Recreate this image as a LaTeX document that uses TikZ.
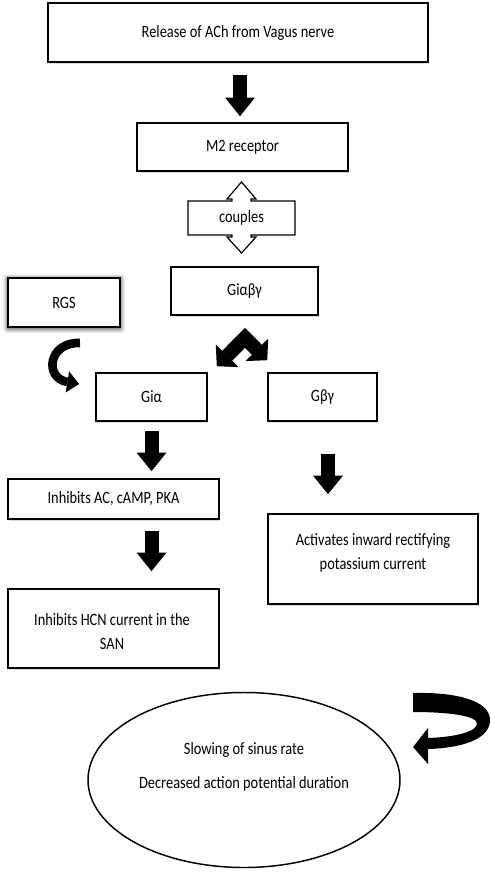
\documentclass[tikz,border=0pt]{standalone}
\usepackage{fontspec}
\setmainfont{Carlito}
\usetikzlibrary{arrows.meta,shadows,calc,shapes.geometric}
\tikzset{headtip/.tip={Triangle[width=24pt, length=11pt, line width=0pt]}}
\newcommand{\tallt}[1]{\scalebox{1}[1.2]{#1}}
\begin{document}
\begin{tikzpicture}[x=0.75pt,y=-0.75pt,
  txt/.style={font=\fontsize{10.8}{18}\selectfont, align=center, inner sep=0pt},
  box/.style={txt, draw=black, fill=white, line width=1.2pt,
    drop shadow={shadow xshift=1pt, shadow yshift=-1.5pt, opacity=0.3}},
  blockarrow/.style={line width=10.5pt, draw=black,
    -{Triangle[width=22.5pt, length=14pt, line width=0pt]}}
]
\useasboundingbox (0,0) rectangle (490,879);
% boxes
\node[box, minimum width=285pt, minimum height=44.25pt] (rel) at (238,32.5) {\tallt{Release of ACh from Vagus nerve}};
\node[box, minimum width=158.25pt, minimum height=36pt] (m2) at (242.5,147) {\tallt{M2 receptor}};
\node[box, minimum width=110.25pt, minimum height=36pt] (giabg) at (244.5,291) {\tallt{Giαβγ}};
% RGS glow
\foreach \i/\o in {5/0.06,4/0.08,3/0.1,2/0.12,1/0.15}
  \fill[black, opacity=\o, rounded corners=2pt] (8-\i,278-\i+1) rectangle (120+\i,327+\i+1);
\node[txt, draw=black, fill=white, line width=1.4pt, minimum width=84pt, minimum height=36.75pt] (rgs) at (64,302.5) {\tallt{RGS}};
\node[box, minimum width=83.25pt, minimum height=36pt] (gia) at (151.5,397) {\tallt{Giα}};
\node[box, minimum width=81.75pt, minimum height=36pt] (gbg) at (322.5,397) {\tallt{Gβγ}};
\node[box, minimum width=158.25pt, minimum height=30pt] (ac) at (113.5,499) {\tallt{Inhibits AC, cAMP, PKA}};
\node[box, minimum width=158.25pt, minimum height=59.25pt] (hcn) at (113.5,628.5) {};
\node[txt] (hcnt) at (112,632) {\tallt{Inhibits HCN current in the}\\\tallt{SAN}};
\node[box, minimum width=157.5pt, minimum height=67.5pt] (act) at (373,559) {};
\node[txt] (actt) at (373,553) {\tallt{Activates inward rectifying}\\\tallt{potassium current}};
\node[txt, draw=black, fill=white, line width=1.1pt, ellipse, minimum width=234pt, minimum height=131.25pt] (ell) at (244,780) {};
\node[txt, font=\fontsize{10.8}{26}\selectfont] (ellt) at (244,767) {\tallt{Slowing of sinus rate}\\\tallt{Decreased action potential duration}};
% couples callout
\draw[fill=white, line width=0.9pt, line join=miter]
  (188,201) -- (232,201) -- (232,199) -- (227,199) -- (241.5,182) -- (256,199) -- (251,199) -- (251,201)
  -- (295,201) -- (295,235) -- (251,235) -- (251,237) -- (256,237) -- (241.5,253) -- (227,237)
  -- (232,237) -- (232,235) -- (188,235) -- cycle;
\node[txt] (couples) at (241.5,218) {\tallt{couples}};
% straight block arrows
\draw[blockarrow] ($(rel.south)+(2,12)$) -- ($(m2.north)+(-2.5,-6)$);
\draw[blockarrow] ($(gia.south)+(0,9)$) -- ($(ac.north)+(38,-7)$);
\draw[blockarrow] ($(ac.south)+(38,11)$) -- ($(hcn.north)+(38,-17)$);
\draw[blockarrow] ($(gbg.south)+(5.5,32)$) -- ($(act.north)+(-45,-19)$);
% split arrow from Gi alpha beta gamma
\draw[line width=10.5pt, line join=miter, {headtip}-{headtip}]
  ($(gia.north east)+(9,-6)$) -- ($(giabg.south)+(0.5,22)$) -- ($(gbg.north west)+(0,-12)$);
% curved arrow from RGS to Gi alpha
\draw[line width=6.5pt, -{Triangle[width=16pt, length=9pt, line width=0pt]}]
  ($(rgs.south)+(16,15)$) .. controls (48,342) and (44,378) .. ($(gia.west)+(-16,-13)$);
% curved arrow at the ellipse
\fill[black] (413,693) .. controls (455,692) and (490,700) .. (490,720)
  .. controls (490,740) and (460,748) .. (428,749) -- (428,764) -- (413,747) -- (428,728) -- (428,738)
  .. controls (455,737) and (476,732) .. (477,724)
  .. controls (478,716) and (450,712) .. (413,712) -- cycle;
\end{tikzpicture}
\end{document}
